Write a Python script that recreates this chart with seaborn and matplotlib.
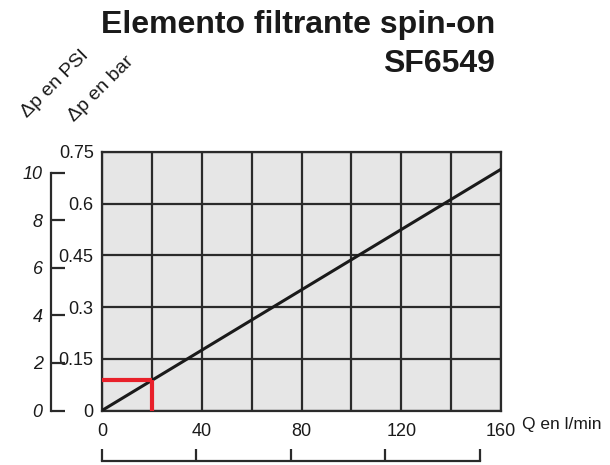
import matplotlib
matplotlib.use("Agg")
import matplotlib.pyplot as plt
import seaborn as sns
import pandas as pd
import numpy as np

# ---- data ----
flow_lpm = [0, 160]            # Q en l/min
dp_bar = [0.0, 0.70]           # Δp en bar
op_flow = 20                   # operating point (red)
op_dp = 0.0875
x_ticks = [0, 40, 80, 120, 160]
bar_ticks = [0, 0.15, 0.3, 0.45, 0.6, 0.75]
bar_labels = ["0", "0.15", "0.3", "0.45", "0.6", "0.75"]
psi_ticks = [0, 2, 4, 6, 8, 10]
gpm_ticks = [0, 10, 20, 30, 40]
title_lines = ["Elemento filtrante spin-on", "SF6549"]

BAR_TO_PSI = 14.5038
LPM_PER_GPM = 3.78541

sns.set_theme(style="white")
plt.rcParams["font.family"] = ["Liberation Sans", "DejaVu Sans"]

W, H = 610, 465
fig = plt.figure(figsize=(W / 100, H / 100), dpi=100)

def fx(px):
    return px / W

def fy(py):
    return 1 - py / H

left, right, top, bottom = 102, 501, 152, 410.5
ax = fig.add_axes([fx(left), fy(bottom), fx(right - left), fy(top) - fy(bottom)])
ax.set_facecolor("#e6e6e6")

df = pd.DataFrame({"Q": flow_lpm, "dp": dp_bar})
sns.lineplot(data=df, x="Q", y="dp", ax=ax, color="#1a1a1a", linewidth=2.2, zorder=3)
ax.plot([0, op_flow], [op_dp, op_dp], color="#e8202a", linewidth=3, zorder=4, solid_capstyle="butt")
ax.plot([op_flow, op_flow], [0, op_dp], color="#e8202a", linewidth=3, zorder=4, solid_capstyle="butt")

ax.set_xlim(0, 160)
ax.set_ylim(0, 0.75)
ax.set_xticks(np.arange(0, 161, 20), minor=False)
ax.set_xticklabels([str(v) if v in x_ticks else "" for v in range(0, 161, 20)])
ax.set_yticks(bar_ticks)
ax.set_yticklabels(bar_labels)
ax.grid(True, color="#2a2a2a", linewidth=1.6)
ax.set_axisbelow(True)
for s in ax.spines.values():
    s.set_color("#2a2a2a")
    s.set_linewidth(1.6)
ax.tick_params(axis="both", length=0, labelsize=13, colors="#1a1a1a")
ax.tick_params(axis="y", pad=6)
ax.tick_params(axis="x", pad=9)
ax.set_xlabel("")
ax.set_ylabel("")

# PSI axis
axp = fig.add_axes([fx(51), fy(bottom), 0.0001, fy(top) - fy(bottom)])
axp.set_ylim(0, 0.75 * BAR_TO_PSI)
axp.set_xlim(0, 1)
axp.patch.set_visible(False)
for k in ["top", "right", "bottom"]:
    axp.spines[k].set_visible(False)
axp.spines["left"].set_bounds(0, 10)
axp.spines["left"].set_color("#2a2a2a")
axp.spines["left"].set_linewidth(1.6)
axp.set_xticks([])
axp.set_yticks(psi_ticks)
axp.set_yticklabels([str(v) for v in psi_ticks], fontstyle="italic")
axp.tick_params(axis="y", direction="in", length=10, width=1.6, color="#2a2a2a",
                labelsize=13, pad=6, labelcolor="#1a1a1a", left=True)

# GPM axis (bottom)
axg = fig.add_axes([fx(left), fy(461), fx(right - left), 0.0001])
axg.set_xlim(0, 160 / LPM_PER_GPM)
axg.patch.set_visible(False)
for k in ["top", "right", "left"]:
    axg.spines[k].set_visible(False)
axg.spines["bottom"].set_bounds(0, 40)
axg.spines["bottom"].set_color("#2a2a2a")
axg.spines["bottom"].set_linewidth(1.6)
axg.set_yticks([])
axg.set_xticks(gpm_ticks)
axg.set_xticklabels([])
axg.tick_params(axis="x", direction="in", length=9, width=1.6, color="#2a2a2a", bottom=True)

# texts
fig.text(fx(522), fy(424), "Q en l/min", fontsize=12.5, ha="left", va="center", color="#1a1a1a")
fig.text(fx(495), fy(33), title_lines[0], fontsize=23, fontweight="bold", ha="right",
         va="baseline", color="#1a1a1a")
fig.text(fx(495), fy(72), title_lines[1], fontsize=23, fontweight="bold", ha="right",
         va="baseline", color="#1a1a1a")
fig.text(fx(55), fy(84), "Δp en PSI", fontsize=14, rotation=45, ha="center", va="center",
         color="#1a1a1a", rotation_mode="anchor")
fig.text(fx(101), fy(89), "Δp en bar", fontsize=14, rotation=45, ha="center", va="center",
         color="#1a1a1a", rotation_mode="anchor")

fig.savefig("out.png", dpi=100)
